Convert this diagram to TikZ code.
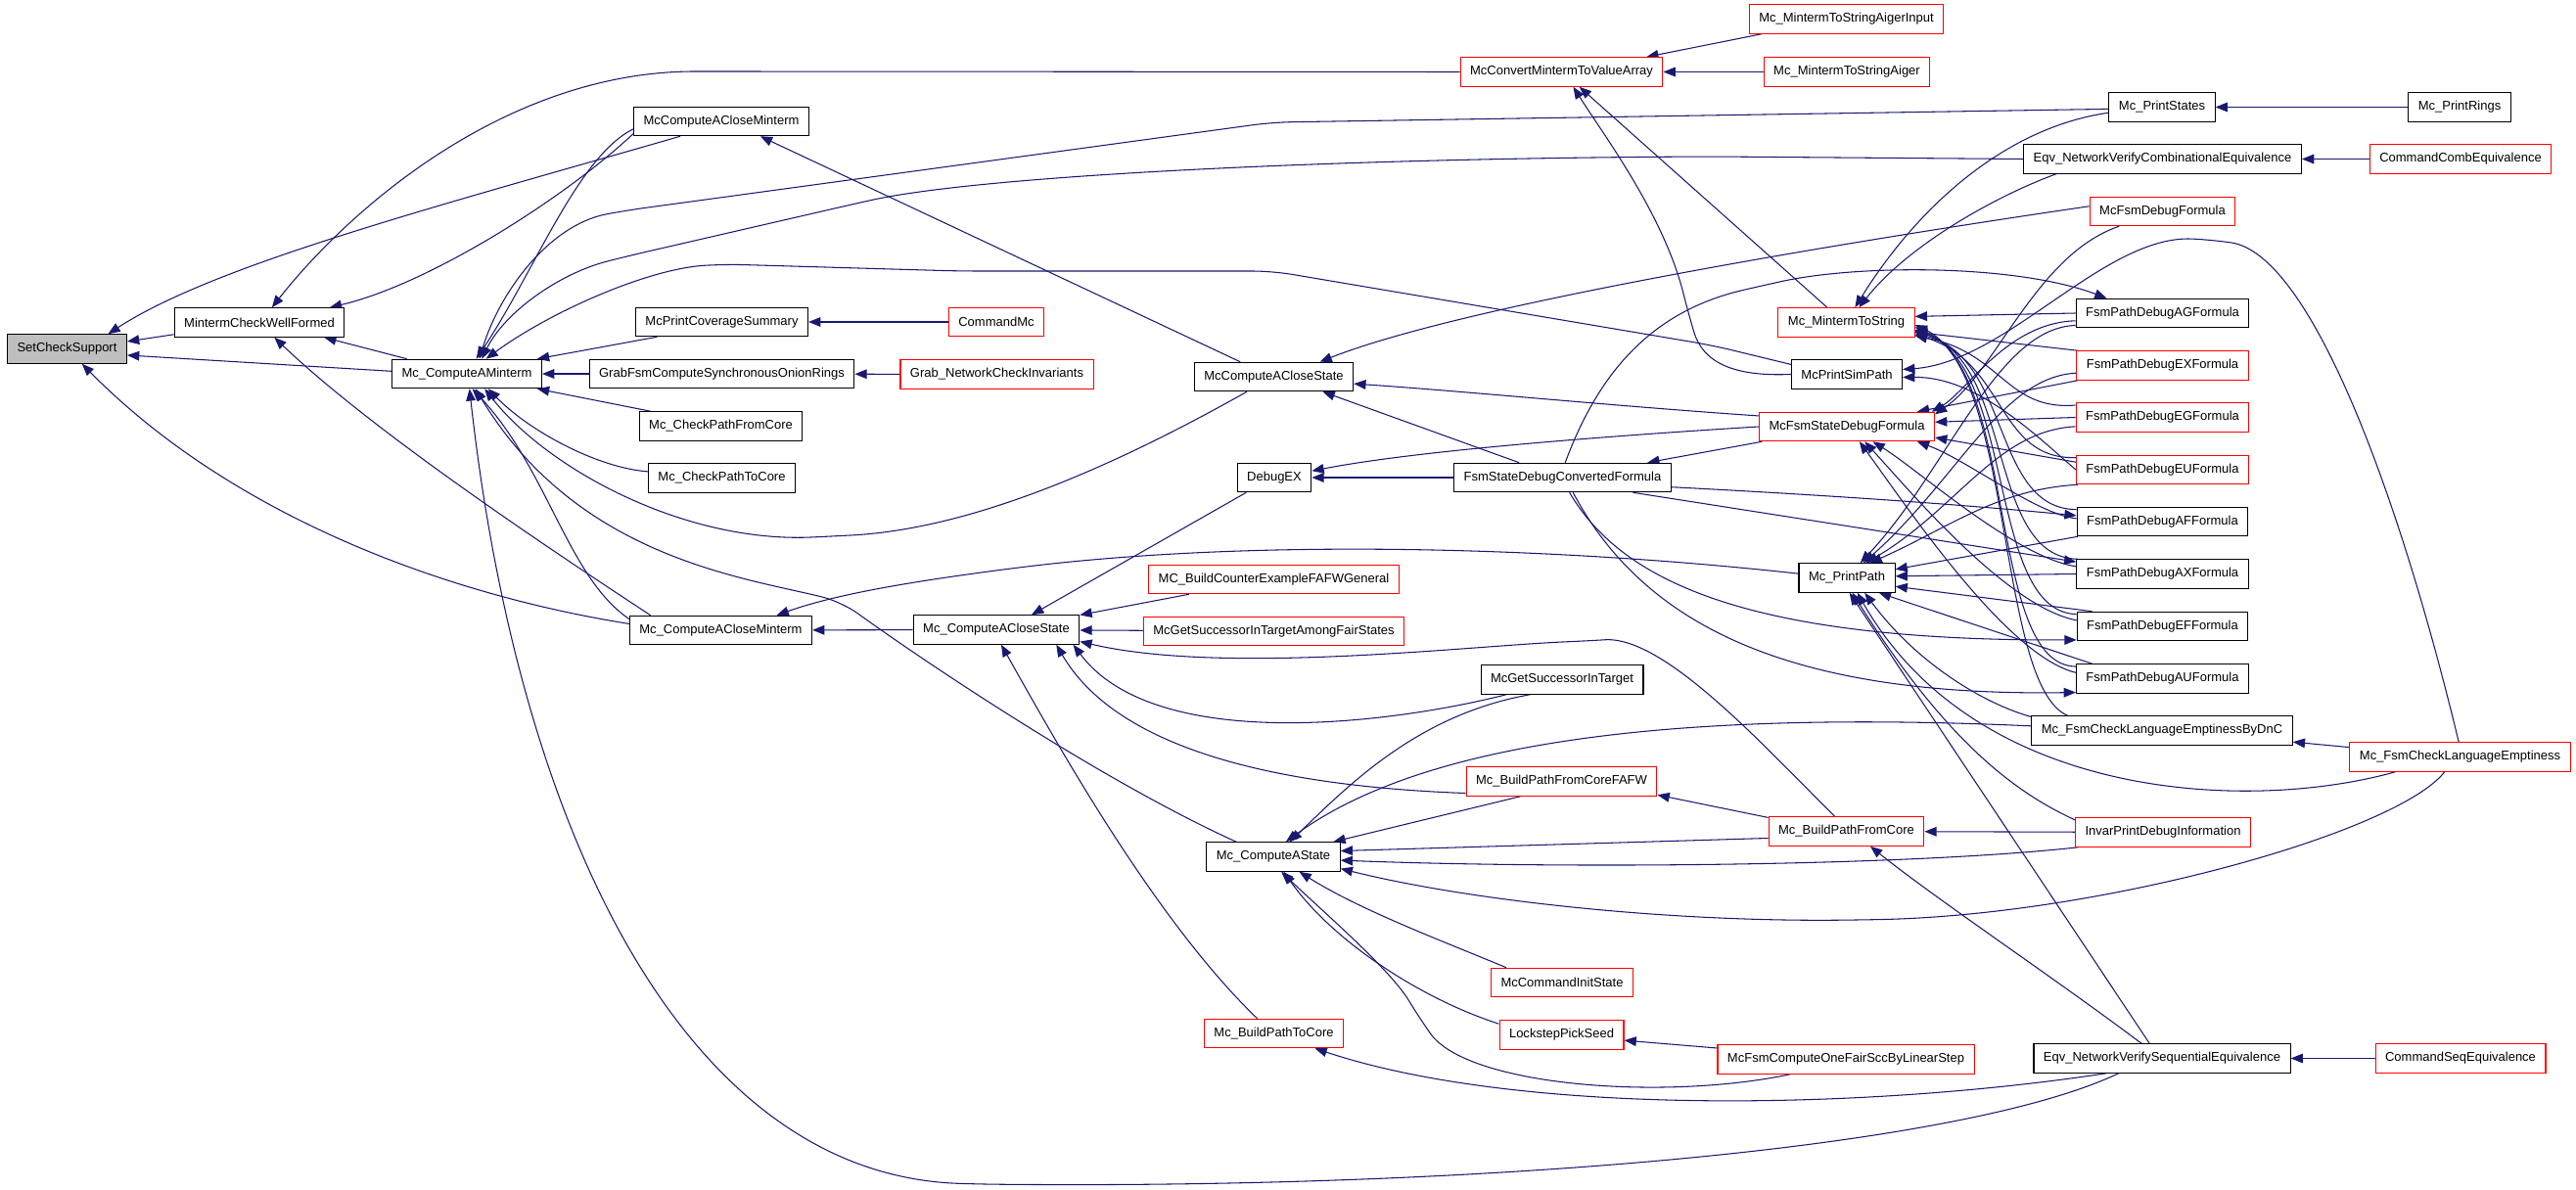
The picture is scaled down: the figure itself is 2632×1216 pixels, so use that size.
\documentclass[tikz,border=0pt]{standalone}
\usepackage{fontspec}
\setmainfont{Liberation Sans}
\usetikzlibrary{arrows.meta, positioning, backgrounds}
\definecolor{edgeblue}{HTML}{191970}
\tikzset{
>={Triangle[length=7pt, width=5.5pt]}, % filled heads as in the call graph
fn/.style={draw=black, line width=0.6pt, fill=white, inner xsep=0.2cm, inner ysep=0pt, minimum height=0.59cm, font=\fontsize{7.4}{8}\selectfont}, % one function
fnred/.style={fn, draw=red}, % function whose callers are cut off
fnroot/.style={fn, fill=gray!50}, % the function being graphed
call/.style={->, draw=edgeblue, line width=0.6pt, rounded corners=0.4cm}, % caller -> callee
}
\begin{document}
\begin{tikzpicture}[x=0.02cm, y=-0.02cm]
\useasboundingbox (0,0) rectangle (2632,1216);

\node[fnroot] (sc) at (68.5,356.5) {SetCheckSupport};
\node[fn] (mcwf) at (265,329.5) {MintermCheckWellFormed};
\node[fn] (cam) at (477,382) {Mc\_ComputeAMinterm};
\node[fn] (ccam) at (737,124) {McComputeACloseMinterm};
\node[fn] (pcs) at (737.5,329) {McPrintCoverageSummary};
\node[fn] (gfo) at (737.5,382) {GrabFsmComputeSynchronousOnionRings};
\node[fn] (cpfc) at (736.5,435.5) {Mc\_CheckPathFromCore};
\node[fn] (cptc) at (737.5,488.5) {Mc\_CheckPathToCore};
\node[fn] (acm) at (736.5,644) {Mc\_ComputeACloseMinterm};
\node[fnred] (cmc) at (1018,329) {CommandMc};
\node[fnred] (gnci) at (1018.5,382.5) {Grab\_NetworkCheckInvariants};
\node[fn] (acs) at (1018,643.5) {Mc\_ComputeACloseState};
\node[fn] (ccas) at (1301.5,385) {McComputeACloseState};
\node[fn] (dex) at (1302,488) {DebugEX};
\node[fnred] (bcex) at (1301.5,592) {MC\_BuildCounterExampleFAFWGeneral};
\node[fnred] (gsfs) at (1301.5,645) {McGetSuccessorInTargetAmongFairStates};
\node[fn] (cas) at (1301,875.5) {Mc\_ComputeAState};
\node[fnred] (bptc) at (1301.5,1056) {Mc\_BuildPathToCore};
\node[fnred] (cvt) at (1595.5,73.5) {McConvertMintermToValueArray};
\node[fn] (sdcf) at (1596.5,488) {FsmStateDebugConvertedFormula};
\node[fn] (gst) at (1596,694.5) {McGetSuccessorInTarget};
\node[fnred] (bpff) at (1595.5,798.5) {Mc\_BuildPathFromCoreFAFW};
\node[fnred] (cis) at (1596,1004) {McCommandInitState};
\node[fnred] (lps) at (1595.5,1057.5) {LockstepPickSeed};
\node[fnred] (m2sai) at (1886.5,19.5) {Mc\_MintermToStringAigerInput};
\node[fnred] (m2sa) at (1887,73.5) {Mc\_MintermToStringAiger};
\node[fnred] (m2s) at (1886.5,329.5) {Mc\_MintermToString};
\node[fn] (psp) at (1887,382.5) {McPrintSimPath};
\node[fnred] (sdf) at (1887,436) {McFsmStateDebugFormula};
\node[fn] (pp) at (1887,590.5) {Mc\_PrintPath};
\node[fnred] (bpfc) at (1886.5,849.5) {Mc\_BuildPathFromCore};
\node[fnred] (ofs) at (1886,1082.5) {McFsmComputeOneFairSccByLinearStep};
\node[fn] (pst) at (2209,109.5) {Mc\_PrintStates};
\node[fn] (nvce) at (2209.5,162.5) {Eqv\_NetworkVerifyCombinationalEquivalence};
\node[fnred] (dbf) at (2209.5,216) {McFsmDebugFormula};
\node[fn] (ag) at (2209.5,320) {FsmPathDebugAGFormula};
\node[fnred] (ex) at (2209.5,373.5) {FsmPathDebugEXFormula};
\node[fnred] (eg) at (2209.5,426.5) {FsmPathDebugEGFormula};
\node[fnred] (eu) at (2209.5,480) {FsmPathDebugEUFormula};
\node[fn] (af) at (2209.5,533) {FsmPathDebugAFFormula};
\node[fn] (ax) at (2209.5,586.5) {FsmPathDebugAXFormula};
\node[fn] (ef) at (2209.5,640) {FsmPathDebugEFFormula};
\node[fn] (au) at (2209.5,693.5) {FsmPathDebugAUFormula};
\node[fn] (dnc) at (2209,746.5) {Mc\_FsmCheckLanguageEmptinessByDnC};
\node[fnred] (ipdi) at (2210,850.5) {InvarPrintDebugInformation};
\node[fn] (nvse) at (2209,1081.5) {Eqv\_NetworkVerifySequentialEquivalence};
\node[fn] (prg) at (2513,109.5) {Mc\_PrintRings};
\node[fnred] (cce) at (2514,162.5) {CommandCombEquivalence};
\node[fnred] (fcle) at (2513.5,773.5) {Mc\_FsmCheckLanguageEmptiness};
\node[fnred] (cse) at (2514,1081.5) {CommandSeqEquivalence};

\begin{scope}[on background layer]
% left part
\draw[call] (mcwf.188) -- (sc.7);
\draw[call] (cam.178) -- (sc.-6);
\draw[call] (ccam.200) .. controls (450,210) and (220,270) .. (sc.20);
\draw[call] (acm.176) .. controls (440,605) and (230,520) .. (sc.-45);
\draw[call] (cvt.west) -- (730,73) .. controls (520,73) and (360,210) .. (mcwf.50);
\draw[call] (ccam.188) .. controls (580,200) and (440,290) .. (mcwf.12);
\draw[call] (cam.166) -- (mcwf.-13);
\draw[call] (acm.168) .. controls (560,560) and (380,440) .. (mcwf.-45);
\draw[call] (ccam.185) .. controls (590,160) and (545,280) .. (cam.58);
\draw[call] (pst.182) -- (1300,125) -- (640,215) .. controls (560,230) and (510,300) .. (cam.50);
\draw[call] (nvce.west) -- (1750,160) .. controls (1350,162) and (1000,180) .. (870,209) -- (640,262) .. controls (570,280) and (515,320) .. (cam.45);
\draw[call] (psp.170) -- (1750,353) -- (1300,277) -- (980,277) -- (740,270) .. controls (660,275) and (560,320) .. (cam.38);
\draw[call] (pcs.193) -- (cam.12);
\draw[call] (gfo) -- (cam);
\draw[call] (cpfc.168) -- (cam.-12);
\draw[call] (cptc.175) .. controls (610,478) and (540,440) .. (cam.-35);
\draw[call] (ccas.209) .. controls (1150,470) and (1000,540) .. (850,548) .. controls (700,555) and (560,480) .. (cam.-40);
\draw[call] (acm.173) .. controls (580,590) and (560,480) .. (cam.-70);
\draw[call] (cas.158) .. controls (1130,800) and (950,680) .. (860,615) .. controls (760,590) and (590,570) .. (cam.-60);
\draw[call] (nvse.199) .. controls (2000,1175) and (1500,1215) .. (1000,1210) .. controls (700,1200) and (530,850) .. (cam.-80);
\draw[call] (cmc) -- (pcs);
\draw[call] (gnci) -- (gfo);
\draw[call] (ccas.156) -- (ccam.-21);
\draw[call] (acs) -- (acm);
\draw[call] (pp.175) .. controls (1600,560) and (1300,550) .. (1040,580) .. controls (950,592) and (860,605) .. (acm.15);
% middle part
\draw[call] (dex.208) -- (acs.23);
\draw[call] (bcex.190) -- (acs.10);
\draw[call] (gsfs) -- (acs);
\draw[call] (bpfc.128) .. controls (1800,760) and (1700,650) .. (1620,655) .. controls (1500,660) and (1250,690) .. (acs.-8);
\draw[call] (gst.195) .. controls (1420,740) and (1180,770) .. (acs.-11);
\draw[call] (bpff.187) .. controls (1350,805) and (1150,780) .. (acs.-14);
\draw[call] (bptc.138) .. controls (1180,940) and (1080,760) .. (acs.-72);
\draw[call] (dbf.176) .. controls (1900,245) and (1500,310) .. (ccas.18);
\draw[call] (sdf.173) .. controls (1650,415) and (1500,400) .. (ccas.-5);
\draw[call] (sdcf.161) -- (ccas.-17);
\draw[call] (sdcf) -- (dex);
\draw[call] (sdf.180) .. controls (1650,445) and (1450,460) .. (dex.10);
\draw[call] (sdf.190) -- (sdcf.10);
\draw[call] (gst.205) .. controls (1450,730) and (1380,800) .. (cas.42);
\draw[call] (dnc.178) .. controls (1700,725) and (1450,760) .. (cas.50);
\draw[call] (bpff.200) -- (cas.14);
\draw[call] (bpfc.185) -- (cas.5);
\draw[call] (ipdi.190) .. controls (1950,885) and (1600,888) .. (cas.-3);
\draw[call] (fcle.224) .. controls (2450,850) and (2150,935) .. (1900,940) .. controls (1700,942) and (1500,920) .. (cas.-10);
\draw[call] (cis.165) .. controls (1470,960) and (1390,930) .. (cas.-30);
\draw[call] (lps.170) .. controls (1450,1020) and (1360,960) .. (cas.-55);
\draw[call] (ofs.195) .. controls (1700,1125) and (1500,1110) .. (1450,1040) .. controls (1420,990) and (1350,930) .. (cas.-62);
\draw[call] (ofs.175) -- (lps.-5);
\draw[call] (nvse.195) .. controls (1900,1135) and (1550,1140) .. (bptc.-20);
\draw[call] (bpfc.170) -- (bpff.-8);
\draw[call] (ipdi) -- (bpfc);
\draw[call] (nvse.144) .. controls (2100,1000) and (1980,920) .. (bpfc.-32);
\draw[call] (cse) -- (nvse);
\draw[call] (cce) -- (nvce);
\draw[call] (prg) -- (pst);
\draw[call] (fcle.175) -- (dnc.-5);
\draw[call] (m2sai.190) -- (cvt.10);
\draw[call] (m2sa) -- (cvt);
\draw[call] (m2s.142) -- (cvt.-40);
\draw[call] (psp.180) .. controls (1770,385) and (1740,370) .. (1725,320) .. controls (1700,220) and (1640,140) .. (cvt.-52);
\draw[call] (pst.186) .. controls (2050,130) and (1960,210) .. (m2s.60);
\draw[call] (nvce.188) .. controls (2040,200) and (1950,250) .. (m2s.50);
% debug formulas
\draw[call] (sdcf.80) .. controls (1630,390) and (1680,320) .. (1800,292) .. controls (1900,270) and (2060,270) .. (ag.165);
\draw[call] (sdcf.-5) .. controls (1850,505) and (2000,515) .. (af.176);
\draw[call] (sdcf.-12) -- (ax.172);
\draw[call] (sdcf.-65) .. controls (1660,600) and (1800,655) .. (ef.189);
\draw[call] (sdcf.-55) .. controls (1680,640) and (1830,712) .. (au.189);
\draw[call] (ag.west) -- (m2s.5);
\draw[call] (ag.185) .. controls (2050,330) and (2010,400) .. (sdf.10);
\draw[call] (ag.188) .. controls (2040,335) and (1990,480) .. (pp.48);
\draw[call] (ex.170) -- (m2s.-8);
\draw[call] (ex.190) -- (sdf.12);
\draw[call] (ex.185) .. controls (2045,385) and (2000,490) .. (pp.42);
\draw[call] (eg.172) .. controls (2050,420) and (2045,360) .. (m2s.-11);
\draw[call] (eg.west) -- (sdf.3);
\draw[call] (eg.186) .. controls (2040,440) and (2000,520) .. (pp.38);
\draw[call] (eu.172) .. controls (2040,470) and (2050,370) .. (m2s.-10);
\draw[call] (eu.175) -- (sdf.-7);
\draw[call] (eu.190) .. controls (2040,500) and (1990,540) .. (pp.33);
\draw[call] (eu.180) .. controls (2080,445) and (2020,385) .. (psp.-3);
\draw[call] (af.172) .. controls (2035,520) and (2055,365) .. (m2s.-9);
\draw[call] (af.178) .. controls (2080,525) and (2010,470) .. (sdf.-12);
\draw[call] (af.190) -- (pp.10);
\draw[call] (ax.170) .. controls (2030,570) and (2058,370) .. (m2s.-7);
\draw[call] (ax.175) .. controls (2060,570) and (1960,480) .. (sdf.-30);
\draw[call] (ax.west) -- (pp.2);
\draw[call] (ef.172) .. controls (2030,625) and (2060,375) .. (m2s.-6);
\draw[call] (ef.176) .. controls (2050,620) and (1950,500) .. (sdf.-40);
\draw[call] (ef.168) -- (pp.-10);
\draw[call] (au.172) .. controls (2030,680) and (2062,380) .. (m2s.-4);
\draw[call] (au.176) .. controls (2050,670) and (1950,520) .. (sdf.-50);
\draw[call] (au.168) -- (pp.-25);
\draw[call] (dnc.171) .. controls (2040,700) and (2058,380) .. (m2s.-2);
\draw[call] (dnc.174) .. controls (2030,720) and (1960,680) .. (pp.-40);
\draw[call] (fcle.193) .. controls (2300,830) and (2020,820) .. (pp.-55);
\draw[call] (nvse.130) -- (pp.-80);
\draw[call] (ipdi.172) .. controls (2060,810) and (1990,760) .. (pp.-70);
\draw[call] (fcle.95) .. controls (2450,500) and (2360,260) .. (2260,245) .. controls (2150,240) and (2050,370) .. (psp.5);
\draw[call] (dbf.199) .. controls (2080,260) and (2040,380) .. (sdf.8);
\end{scope}
\end{tikzpicture}
\end{document}
